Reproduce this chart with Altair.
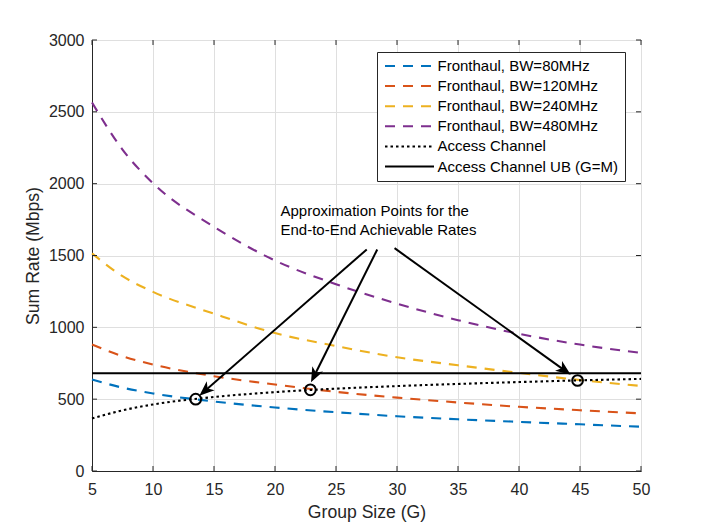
import math
import altair as alt
import pandas as pd

# ---------------- data ----------------
G = [5, 7.5, 10, 15, 20, 25, 30, 35, 40, 45, 50]
fh_80 = [637, 580, 540, 484, 442, 409, 381, 360, 342, 325, 308]
fh_120 = [880, 799, 741, 660, 602, 551, 511, 477, 447, 423, 401]
fh_240 = [1515, 1356, 1247, 1095, 960, 870, 792, 736, 683, 633, 592]
fh_480 = [2565, 2237, 2003, 1700, 1465, 1300, 1165, 1050, 955, 880, 822]
access = [366, 422, 463, 515, 549, 573, 591, 606, 619, 631, 641]
ub_G = [5, 50]
ub_rate = [680, 680]

names = ["Fronthaul, BW=80MHz", "Fronthaul, BW=120MHz", "Fronthaul, BW=240MHz",
         "Fronthaul, BW=480MHz", "Access Channel", "Access Channel UB (G=M)"]
colors = ["#0072BD", "#D95319", "#EDB120", "#7E2F8E", "#000000", "#000000"]
dashes = [[10, 8], [10, 8], [10, 8], [10, 8], [2.5, 3], [1, 0]]

# approximation points (circles)
pt_G = [13.5, 22.9, 44.8]
pt_rate = [500, 565, 630]

# arrows: start (under the text) and tip (at the circles)
arr_G0 = [27.52, 28.38, 29.80]
arr_r0 = [1542, 1542, 1551]
arr_G1 = [13.80, 22.95, 44.24]
arr_r1 = [524, 617, 670]

note_lines = ["Approximation Points for the", "End-to-End Achievable Rates"]
note_G = [20.45, 20.45]
note_rate = [1777, 1641]

x_ticks = list(range(5, 51, 5))
y_ticks = list(range(0, 3001, 500))

# ---------------- layout ----------------
W, H = 549, 431
X_DOM = [5, 50]
Y_DOM = [0, 3000]
pxG = W / (X_DOM[1] - X_DOM[0])
pxR = H / (Y_DOM[1] - Y_DOM[0])
FONT = "Liberation Sans"
AX = "#262626"

rows = []
for nm, vals in zip(names[:5], [fh_80, fh_120, fh_240, fh_480, access]):
    for g, v in zip(G, vals):
        rows.append({"G": g, "rate": v, "series": nm})
for g, v in zip(ub_G, ub_rate):
    rows.append({"G": g, "rate": v, "series": names[5]})
lines_df = pd.DataFrame(rows)

# inward ticks on all four sides
tl = 5.0
tick_rows = []
for t in x_ticks:
    tick_rows.append({"G": t, "G2": t, "rate": Y_DOM[0], "rate2": Y_DOM[0] + tl / pxR})
    tick_rows.append({"G": t, "G2": t, "rate": Y_DOM[1], "rate2": Y_DOM[1] - tl / pxR})
for t in y_ticks:
    tick_rows.append({"G": X_DOM[0], "G2": X_DOM[0] + tl / pxG, "rate": t, "rate2": t})
    tick_rows.append({"G": X_DOM[1], "G2": X_DOM[1] - tl / pxG, "rate": t, "rate2": t})
ticks_df = pd.DataFrame(tick_rows)

arrow_rows, head_rows = [], []
for g0, r0, g1, r1 in zip(arr_G0, arr_r0, arr_G1, arr_r1):
    dx = (g1 - g0) * pxG
    dy = -(r1 - r0) * pxR
    L = math.hypot(dx, dy)
    ux, uy = dx / L, dy / L
    ang = math.degrees(math.atan2(dx, -dy)) % 360
    ge = g1 - 8 * ux / pxG
    re = r1 + 8 * uy / pxR
    arrow_rows.append({"G": g0, "rate": r0, "G2": ge, "rate2": re})
    head_rows.append({"G": g1, "rate": r1, "angle": ang})
arrows_df = pd.DataFrame(arrow_rows)
heads_df = pd.DataFrame(head_rows)

pts_df = pd.DataFrame({"G": pt_G, "rate": pt_rate})
note_df = pd.DataFrame({"G": note_G, "rate": note_rate, "text": note_lines})

xs = alt.Scale(domain=X_DOM, nice=False, zero=False)
ys = alt.Scale(domain=Y_DOM, nice=False)

x_axis = alt.Axis(values=x_ticks, title="Group Size (G)", labelPadding=10, titlePadding=6,
                  grid=True, ticks=False, labelFlush=False, labelOverlap=False, format="d")
y_axis = alt.Axis(values=y_ticks, title="Sum Rate (Mbps)", labelPadding=8, titlePadding=6,
                  grid=True, ticks=False, labelFlush=False, labelOverlap=False, format="d")


def X(field="G"):
    return alt.X(f"{field}:Q", scale=xs, axis=x_axis, title="Group Size (G)")


def Y(field="rate"):
    return alt.Y(f"{field}:Q", scale=ys, axis=y_axis, title="Sum Rate (Mbps)")


legend = alt.Legend(
    title=None, orient="none", legendX=285, legendY=12,
    symbolType="M-1.2,0H8.6", symbolSize=100, symbolStrokeWidth=2,
    labelOffset=39, labelFontSize=15, labelFont=FONT, labelColor="#000000",
    labelLimit=400, rowPadding=4.1, padding=6.5,
    strokeColor=AX, fillColor="#ffffff", cornerRadius=0,
)

lines = alt.Chart(lines_df).mark_line(strokeWidth=2.1, interpolate="monotone").encode(
    x=X(), y=Y(),
    color=alt.Color("series:N", scale=alt.Scale(domain=names, range=colors), legend=legend),
    strokeDash=alt.StrokeDash("series:N", scale=alt.Scale(domain=names, range=dashes), legend=legend),
)

ticks = alt.Chart(ticks_df).mark_rule(color=AX, strokeWidth=1).encode(
    x=X(), x2="G2:Q", y=Y(), y2="rate2:Q",
)

circles = alt.Chart(pts_df).mark_point(shape="circle", filled=False, size=115,
                                       strokeWidth=2, color="#000000", opacity=1).encode(
    x=X(), y=Y(),
)

arrow_lines = alt.Chart(arrows_df).mark_rule(color="#000000", strokeWidth=2).encode(
    x=X(), x2="G2:Q", y=Y(), y2="rate2:Q",
)

heads = alt.Chart(heads_df).mark_point(
    shape="M0,0L0.6,1.5L0,1.1L-0.6,1.5Z", size=400, filled=True,
    color="#000000", opacity=1, strokeWidth=0,
).encode(
    x=X(), y=Y(),
    angle=alt.Angle("angle:Q", scale=None),
)

notes = alt.Chart(note_df).mark_text(align="left", baseline="alphabetic", fontSize=15,
                                     font=FONT, color="#000000").encode(
    x=X(), y=Y(), text="text:N",
)

chart = alt.layer(lines, ticks, arrow_lines, heads, circles, notes).properties(
    width=W, height=H,
    autosize=alt.AutoSizeParams(type="none"),
    padding={"left": 84, "top": 32, "right": 57, "bottom": 51},
    background="#ffffff",
).configure_view(
    stroke=AX, strokeWidth=1,
).configure_axis(
    labelFont=FONT, titleFont=FONT, labelFontSize=16, titleFontSize=17.6,
    titleFontWeight="normal", labelColor=AX, titleColor=AX,
    domainColor=AX, domainWidth=1, gridColor="#dfdfdf", gridWidth=1,
)

chart.save("out.html", embed_options={"renderer": "svg", "actions": False})
